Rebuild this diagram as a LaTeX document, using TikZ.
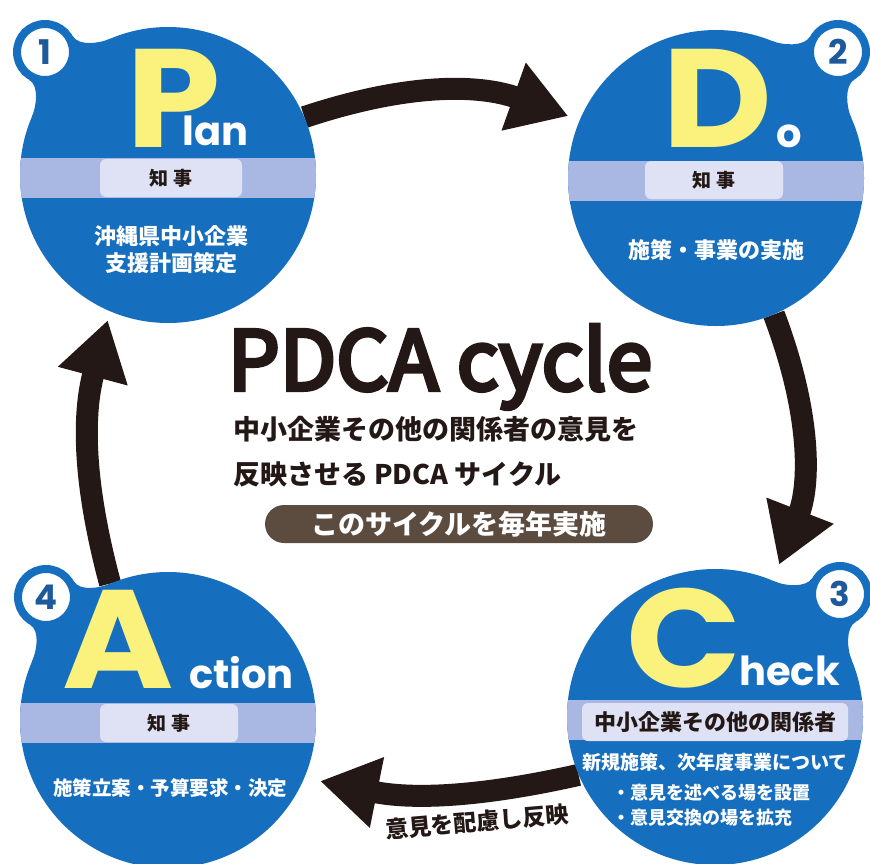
\documentclass[tikz,border=0pt]{standalone}
\usepackage{fontspec}
\setmainfont{Noto Sans CJK JP}
\newfontfamily\jp{Noto Sans CJK JP}
\newfontfamily\jpspaced[LetterSpace=30]{Noto Sans CJK JP}
\newfontfamily\geo{Poppins}
\usetikzlibrary{arrows.meta, calc, backgrounds}
\definecolor{pdcablue}{RGB}{22,110,190}
\definecolor{numblue}{RGB}{30,90,155}
\definecolor{bandblue}{RGB}{168,184,226}
\definecolor{pillgray}{RGB}{222,226,244}
\definecolor{letteryellow}{RGB}{250,242,125}
\definecolor{arrowdark}{RGB}{35,24,21}
\definecolor{pillbrown}{RGB}{92,76,64}

% thicker strokes for the title
\newcommand{\heavytext}[1]{\special{pdf:literal direct 2 Tr 4 w 0.137 0.094 0.082 RG}#1\special{pdf:literal direct 0 Tr}}

\tikzset{
  stage/.style={circle, fill=pdcablue, minimum size=296pt, inner sep=0pt},
  badge/.style={circle, fill=white, draw=pdcablue, line width=8pt, minimum size=56pt,
    inner sep=0pt, text=numblue, font=\geo\bfseries\fontsize{34}{34}\selectfont},
  cyclearrow/.style={draw=arrowdark, line width=22pt, -{Triangle[length=58pt,width=68pt]}},
  bigletter/.style={text=letteryellow, inner sep=0pt, anchor=base west, xscale=1.08,
    font=\geo\bfseries\fontsize{140}{140}\selectfont},
  tailword/.style={text=white, inner sep=0pt, anchor=base west,
    font=\geo\bfseries\fontsize{40}{40}\selectfont},
  pill/.style={fill=pillgray, rounded corners=6pt, minimum height=38pt, inner sep=0pt,
    text=arrowdark, font=\jpspaced\bfseries\fontsize{19}{19}\selectfont},
  whitejp/.style={text=white, align=center, inner sep=0pt,
    font=\jp\bfseries\fontsize{22}{27}\selectfont},
}

% neck between number badge #1 and stage circle #2
\newcommand{\stageneck}[2]{%
  \coordinate (a1) at ($(#1)!32pt!75:(#2)$);
  \coordinate (a2) at ($(#1)!32pt!-75:(#2)$);
  \coordinate (b1) at ($(#2)!148pt!-22:(#1)$);
  \coordinate (b2) at ($(#2)!148pt!22:(#1)$);
  \fill[pdcablue] (a1) .. controls ($(a1)!12pt!90:(#1)$) and ($(b1)!12pt!-90:(#2)$) .. (b1)
    -- (b2) .. controls ($(b2)!12pt!90:(#2)$) and ($(a2)!12pt!-90:(#1)$) .. (a2) -- cycle;}

\begin{document}
\begin{tikzpicture}[x=1pt, y=-1pt]
  \useasboundingbox (0,0) rectangle (870,863);

  % the four stages
  \node[stage] (plan)  at (168,175) {};
  \node[stage] (do)    at (716,178) {};
  \node[stage] (check) at (715,717) {};
  \node[stage] (act)   at (168,720) {};

  % light bands
  \foreach \s in {plan,do,check,act}{
    \begin{scope}
      \clip (\s.center) circle[radius=148pt];
      \fill[bandblue] ($(\s.center)+(-150,-17)$) rectangle ($(\s.center)+(150,23)$);
    \end{scope}}

  % number badges
  \node[badge] (n1) at (45,52)   {1};
  \node[badge] (n2) at (838,52)  {2};
  \node[badge] (n3) at (840,594) {3};
  \node[badge] (n4) at (46,597)  {4};

  % Plan
  \node[bigletter] (bigp) at (126,147) {P};
  \node[tailword] at (182,145) {lan};
  \node[pill, minimum width=142pt] (pillplan) at ($(plan.center)+(3,3)$) {知事};
  \node[whitejp] (txtplan) at (171,250) {沖縄県中小企業\\支援計画策定};

  % Do
  \node[bigletter] (bigd) at (662,147) {D};
  \node[tailword] at (776,147) {o};
  \node[pill, minimum width=138pt] (pilldo) at ($(do.center)+(-2,2)$) {知事};
  \node[whitejp] (txtdo) at (716,250) {施策・事業の実施};

  % Check
  \node[bigletter] (bigc) at (626,687) {C};
  \node[tailword] at (739,685) {heck};
  \node[pill, minimum width=266pt, font=\jp\bfseries\fontsize{22}{22}\selectfont]
    (pillcheck) at (715,722) {中小企業その他の関係者};
  \node[whitejp, font=\jp\bfseries\fontsize{19}{19}\selectfont] (txtcheck) at (715,762)
    {新規施策、次年度事業について};
  \node[whitejp, align=left, anchor=west, font=\jp\bfseries\fontsize{18}{25}\selectfont]
    (bulletcheck) at (612,805) {・意見を述べる場を設置\\・意見交換の場を拡充};

  % Action
  \node[bigletter] (biga) at (62,688) {A};
  \node[tailword] at (189,688) {ction};
  \node[pill, minimum width=138pt] (pillact) at ($(act.center)+(1,3)$) {知事};
  \node[whitejp, font=\jp\bfseries\fontsize{19.5}{19.5}\selectfont] (txtact) at (170,788)
    {施策立案・予算要求・決定};

  % centre texts
  \node[anchor=base, inner sep=0pt, text=arrowdark, font=\jp\fontsize{82}{82}\selectfont]
    (title) at (440,390) {\heavytext{PDCA cycle}};
  \node[anchor=west, align=left, inner sep=0pt, text=arrowdark,
    font=\jp\bfseries\fontsize{27}{45}\selectfont] (subtitle) at (233,452)
    {中小企業その他の関係者の意見を\\反映させる PDCA サイクル};
  \node[fill=pillbrown, rounded corners=19pt, minimum width=388pt, minimum height=38pt,
    inner sep=0pt, text=white, font=\jp\bfseries\fontsize{27}{27}\selectfont]
    (yearly) at (459,524) {このサイクルを毎年実施};
  \node[rotate=5, inner sep=0pt, text=arrowdark, font=\jp\bfseries\fontsize{23}{23}\selectfont]
    (feedback) at (477,822) {意見を配慮し反映};

  % arrows and necks behind
  \begin{scope}[on background layer]
    \stageneck{n1}{plan}
    \stageneck{n2}{do}
    \stageneck{n3}{check}
    \stageneck{n4}{act}
    \draw[cyclearrow, shorten >=12pt] (plan.23) to[bend left=19] (do.157);
    \draw[cyclearrow, shorten >=17pt] (do.-67) to[bend left=21] (check.67);
    \draw[cyclearrow, shorten >=16pt] (check.203) to[bend left=12] (act.-23);
    \draw[cyclearrow, shorten >=9pt] (act.113) to[bend left=15] (plan.-113);
  \end{scope}
\end{tikzpicture}
\end{document}
